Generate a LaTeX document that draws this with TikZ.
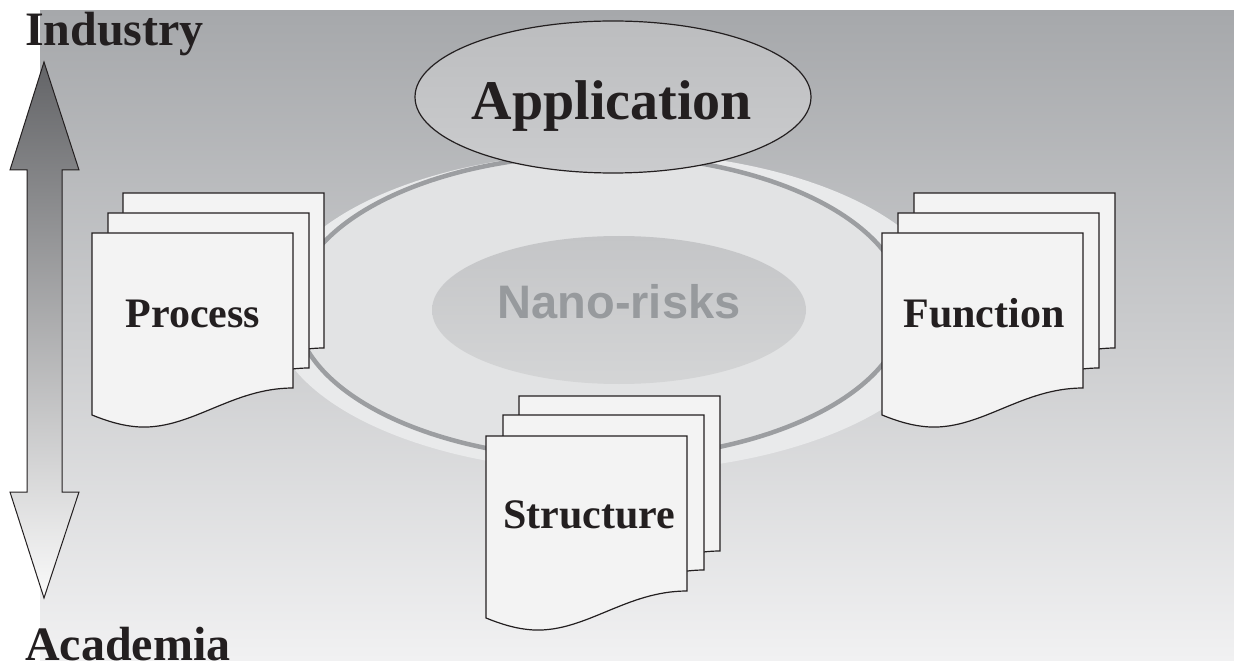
\documentclass[tikz,border=0pt]{standalone}
\usepackage{fontspec}
\setmainfont{Liberation Serif}
\newfontfamily\sansfam{Liberation Sans}
\usetikzlibrary{shapes.geometric}
\definecolor{bgtop}{HTML}{A6A8AB}
\definecolor{bgmid}{HTML}{CBCCCE}
\definecolor{bgbot}{HTML}{F1F1F2}
\definecolor{arrtop}{HTML}{636467}
\definecolor{arrbot}{HTML}{FAFAFA}
\definecolor{halo}{HTML}{E9EAEB}
\definecolor{ringin}{HTML}{E2E3E4}
\definecolor{ringline}{HTML}{9C9EA1}
\definecolor{nanotop}{HTML}{C4C5C7}
\definecolor{nanobot}{HTML}{D4D5D6}
\definecolor{nanotext}{HTML}{979A9D}
\definecolor{apptop}{HTML}{BCBDBF}
\definecolor{appbot}{HTML}{CBCCCE}
\definecolor{sheetfill}{HTML}{F3F3F3}
\definecolor{inkline}{HTML}{231F20}
\tikzset{
  sheet/.style={fill=sheetfill, draw=inkline, line width=1.2pt, line join=miter},
  bigtitle/.style={font=\fontsize{48}{56}\selectfont\bfseries, text=inkline, inner sep=0pt},
  sheettext/.style={font=\fontsize{42}{50}\selectfont\bfseries, text=inkline, inner sep=0pt, anchor=base},
}
\newcommand\drawsheet[2]{%
  \begin{scope}[shift={(#1,-#2)}]
    \draw[sheet] (0,0) -- (201,0) -- (201,-155)
      .. controls (140,-155) and (100,-196) .. (48,-194)
      .. controls (30,-193) and (15,-188) .. (0,-182) -- cycle;
  \end{scope}}
\begin{document}
\begin{tikzpicture}[x=1pt,y=1pt]
\useasboundingbox (0,0) rectangle (1234,-668);
% background
\shade[top color=bgtop, bottom color=bgbot, middle color=bgmid] (40,-11) rectangle (1234,-660);
% halo and ring
\fill[halo] (612,-312) ellipse [x radius=340, y radius=160];
\draw[fill=ringin, draw=ringline, line width=4.5pt] (600,-307) ellipse [x radius=305, y radius=152];
% nano ellipse
\shade[top color=nanotop, bottom color=nanobot] (619,-310) ellipse [x radius=187, y radius=74];
\node[coordinate] (nano) at (619,-310) {};
\node[font=\sansfam\fontsize{47}{54}\selectfont\bfseries, text=nanotext, inner sep=0pt, anchor=base] (nanotxt) at (619,-319) {Nano-risks};
% application ellipse
\node[ellipse, draw=inkline, line width=1.2pt, top color=apptop, bottom color=appbot,
      minimum width=396pt, minimum height=152pt, inner sep=0pt] (app) at (613,-97) {};
\node[font=\fontsize{56}{64}\selectfont\bfseries, text=inkline, inner sep=0pt, anchor=base] (apptxt) at (612,-120) {Application};
% sheets
\drawsheet{123}{193}\drawsheet{108}{213}\drawsheet{92}{233}
\node[sheettext] (process) at (193,-327) {Process};
\drawsheet{914}{193}\drawsheet{898}{213}\drawsheet{882}{233}
\node[sheettext] (function) at (984,-327) {Function};
\drawsheet{519}{396}\drawsheet{503}{415}\drawsheet{486}{436}
\node[sheettext] (structure) at (589,-528) {Structure};
% double arrow
\shade[top color=arrtop, bottom color=arrbot, draw=inkline, line width=1pt]
  (44,-62) -- (79,-170) -- (62,-170) -- (62,-492) -- (79,-492) -- (44,-598)
  -- (10,-492) -- (27,-492) -- (27,-170) -- (10,-170) -- cycle;
% labels
\node[bigtitle, anchor=base west] (industry) at (25,-46) {Industry};
\node[bigtitle, anchor=base west] (academia) at (25,-660) {Academia};
\end{tikzpicture}
\end{document}
